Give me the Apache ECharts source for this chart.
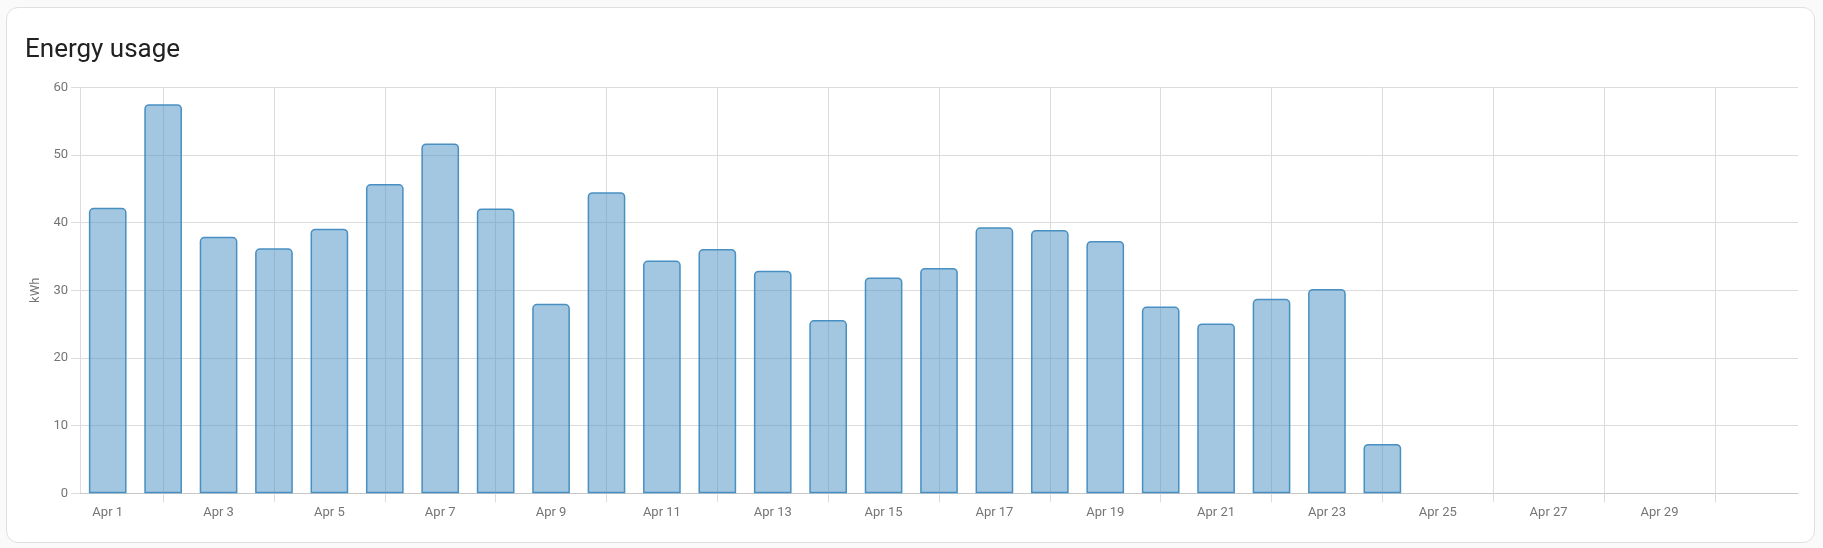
<!DOCTYPE html>
<html>
<head>
<meta charset="utf-8">
<script src="https://cdn.jsdelivr.net/npm/echarts@6/dist/echarts.min.js"></script>
<style>
  html, body { margin: 0; padding: 0; background: #fafafa; }
  #card {
    position: absolute; left: 6px; top: 7px; width: 1809px; height: 536px;
    background: #ffffff; border: 1px solid #e0e0e0; border-radius: 12px; box-sizing: border-box;
  }
  #chart { position: absolute; left: 0; top: 0; width: 1823px; height: 548px; }
</style>
</head>
<body>
<div id="card"></div>
<div id="chart"></div>
<script>
const categories = ["Apr 1","Apr 2","Apr 3","Apr 4","Apr 5","Apr 6","Apr 7","Apr 8","Apr 9","Apr 10",
  "Apr 11","Apr 12","Apr 13","Apr 14","Apr 15","Apr 16","Apr 17","Apr 18","Apr 19","Apr 20",
  "Apr 21","Apr 22","Apr 23","Apr 24","Apr 25","Apr 26","Apr 27","Apr 28","Apr 29","Apr 30","May 1"];
const usageKWh = [42.2, 57.5, 37.9, 36.2, 39.1, 45.7, 51.7, 42.1, 28.0, 44.5,
  34.4, 36.1, 32.9, 25.6, 31.9, 33.3, 39.3, 38.9, 37.3, 27.6,
  25.1, 28.75, 30.2, 7.3, null, null, null, null, null, null, null];
const yTicks = { min: 0, max: 60, interval: 10 };
const titleText = "Energy usage";
const unitName = "kWh";

const chart = echarts.init(document.getElementById('chart'), null, { renderer: 'canvas' });
const gray = '#757575';
chart.setOption({
  animation: false,
  textStyle: { fontFamily: 'Roboto' },
  title: {
    text: titleText, left: 20, top: 32,
    textStyle: { fontFamily: 'Roboto', fontSize: 26, fontWeight: 'normal', color: '#212121' }
  },
  grid: { left: 80, right: 25, top: 87.3, bottom: 54.7, containLabel: false, outerBoundsMode: 'none' },
  xAxis: {
    type: 'category',
    data: categories,
    boundaryGap: true,
    axisLine: { show: true, lineStyle: { color: '#c8c8c8', width: 1 } },
    axisTick: {
      show: true, alignWithLabel: true, length: 9,
      interval: (i) => i % 2 === 1,
      lineStyle: { color: '#dcdcdc' }
    },
    axisLabel: {
      interval: (i) => i % 2 === 0 && i < 30,
      color: gray, fontSize: 13, margin: 13, fontFamily: 'Roboto'
    },
    splitLine: {
      show: true, alignWithLabel: true,
      interval: (i) => i % 2 === 1,
      lineStyle: { color: '#dcdcdc', width: 1 }
    }
  },
  yAxis: {
    type: 'value',
    min: yTicks.min, max: yTicks.max, interval: yTicks.interval,
    name: unitName, nameLocation: 'middle', nameGap: 38, nameRotate: 90,
    nameTextStyle: { color: gray, fontSize: 13, fontFamily: 'Roboto' },
    axisLine: { show: true, lineStyle: { color: '#dcdcdc' } },
    axisTick: { show: true, length: 9, lineStyle: { color: '#dcdcdc' } },
    axisLabel: { color: gray, fontSize: 13, margin: 12, fontFamily: 'Roboto' },
    splitLine: { show: true, lineStyle: { color: '#dcdcdc', width: 1 } }
  },
  series: [{
    type: 'bar',
    data: usageKWh,
    barWidth: '68%',
    itemStyle: {
      color: 'rgba(72,143,194,0.5)',
      borderColor: '#488fc2',
      borderWidth: 1.5,
      borderRadius: [4, 4, 0, 0]
    }
  }]
});
</script>
</body>
</html>
